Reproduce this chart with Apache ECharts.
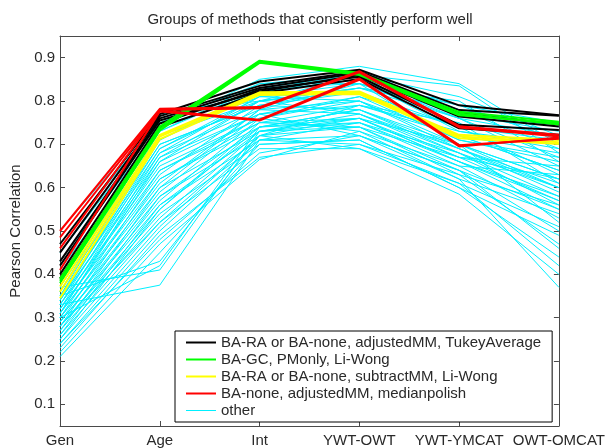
<!DOCTYPE html>
<html>
<head>
<meta charset="utf-8">
<script src="https://cdn.jsdelivr.net/npm/echarts@6/dist/echarts.min.js"></script>
<style>
  html, body { margin: 0; padding: 0; background: #ffffff; }
  #chart { width: 608px; height: 448px; }
</style>
</head>
<body>
<div id="chart"></div>
<script>
// Comparison conditions along the x axis
const categories = ['Gen', 'Age', 'Int', 'YWT-OWT', 'YWT-YMCAT', 'OWT-OMCAT'];
const yTicks = [0.1, 0.2, 0.3, 0.4, 0.5, 0.6, 0.7, 0.8, 0.9];

// Legend labels for the highlighted method groups
const nameTukey = 'BA-RA or BA-none, adjustedMM, TukeyAverage';
const nameGC = 'BA-GC, PMonly, Li-Wong';
const nameSubtract = 'BA-RA or BA-none, subtractMM, Li-Wong';
const nameMedian = 'BA-none, adjustedMM, medianpolish';
const nameOther = 'other';

// Pearson correlation per method (one row per method, one value per condition)
const tukeyRows = [
  [0.47, 0.770, 0.845, 0.872, 0.790, 0.767],
  [0.45, 0.765, 0.835, 0.868, 0.779, 0.766],
  [0.43, 0.760, 0.830, 0.865, 0.772, 0.746],
  [0.42, 0.755, 0.822, 0.860, 0.764, 0.741],
  [0.40, 0.748, 0.826, 0.856, 0.745, 0.733],
  [0.39, 0.740, 0.818, 0.851, 0.737, 0.722]
];
const gcRows = [
  [0.390, 0.741, 0.893, 0.865, 0.775, 0.752],
  [0.385, 0.736, 0.891, 0.863, 0.771, 0.746],
  [0.380, 0.732, 0.888, 0.860, 0.767, 0.749]
];
const subtractRows = [
  [0.372, 0.722, 0.820, 0.822, 0.722, 0.710],
  [0.360, 0.718, 0.817, 0.819, 0.718, 0.705],
  [0.345, 0.712, 0.814, 0.816, 0.714, 0.701]
];
const medianRows = [
  [0.500, 0.782, 0.786, 0.869, 0.742, 0.722],
  [0.485, 0.779, 0.783, 0.866, 0.739, 0.718],
  [0.460, 0.778, 0.757, 0.852, 0.698, 0.713],
  [0.410, 0.776, 0.755, 0.849, 0.695, 0.716]
];
const otherRows = [
  [0.50, 0.770, 0.800, 0.860, 0.780, 0.740],
  [0.47, 0.760, 0.820, 0.850, 0.760, 0.720],
  [0.45, 0.750, 0.840, 0.840, 0.770, 0.730],
  [0.43, 0.740, 0.850, 0.880, 0.840, 0.700],
  [0.41, 0.730, 0.830, 0.860, 0.835, 0.680],
  [0.37, 0.720, 0.800, 0.830, 0.800, 0.660],
  [0.36, 0.700, 0.790, 0.820, 0.740, 0.710],
  [0.35, 0.690, 0.810, 0.800, 0.720, 0.640],
  [0.35, 0.680, 0.780, 0.840, 0.700, 0.620],
  [0.34, 0.670, 0.770, 0.790, 0.730, 0.690],
  [0.34, 0.660, 0.800, 0.770, 0.690, 0.600],
  [0.33, 0.650, 0.760, 0.810, 0.710, 0.670],
  [0.33, 0.640, 0.750, 0.760, 0.660, 0.580],
  [0.32, 0.630, 0.790, 0.780, 0.680, 0.560],
  [0.32, 0.620, 0.740, 0.750, 0.650, 0.630],
  [0.31, 0.610, 0.780, 0.800, 0.700, 0.520],
  [0.31, 0.600, 0.730, 0.740, 0.670, 0.650],
  [0.30, 0.590, 0.770, 0.720, 0.640, 0.500],
  [0.30, 0.580, 0.720, 0.790, 0.750, 0.610],
  [0.29, 0.570, 0.760, 0.730, 0.620, 0.540],
  [0.29, 0.560, 0.710, 0.700, 0.630, 0.470],
  [0.28, 0.550, 0.740, 0.780, 0.690, 0.590],
  [0.28, 0.540, 0.700, 0.710, 0.600, 0.440],
  [0.27, 0.530, 0.730, 0.760, 0.660, 0.570],
  [0.26, 0.520, 0.690, 0.690, 0.585, 0.400],
  [0.25, 0.510, 0.720, 0.740, 0.640, 0.550],
  [0.24, 0.500, 0.710, 0.720, 0.620, 0.370],
  [0.23, 0.490, 0.670, 0.700, 0.610, 0.420],
  [0.22, 0.470, 0.665, 0.730, 0.650, 0.530],
  [0.21, 0.450, 0.700, 0.710, 0.600, 0.490],
  [0.37, 0.410, 0.730, 0.770, 0.680, 0.580],
  [0.33, 0.375, 0.710, 0.750, 0.660, 0.550],
  [0.30, 0.420, 0.740, 0.780, 0.700, 0.600],
  [0.35, 0.430, 0.720, 0.760, 0.670, 0.620],
  [0.36, 0.710, 0.820, 0.850, 0.730, 0.700],
  [0.38, 0.720, 0.810, 0.840, 0.760, 0.670],
  [0.34, 0.700, 0.790, 0.830, 0.780, 0.690],
  [0.33, 0.690, 0.800, 0.820, 0.710, 0.660],
  [0.31, 0.660, 0.770, 0.810, 0.740, 0.630],
  [0.30, 0.640, 0.760, 0.800, 0.690, 0.610],
  [0.29, 0.620, 0.750, 0.790, 0.720, 0.640],
  [0.28, 0.600, 0.780, 0.770, 0.670, 0.570],
  [0.27, 0.580, 0.740, 0.760, 0.700, 0.620],
  [0.26, 0.560, 0.730, 0.750, 0.680, 0.600],
  [0.25, 0.550, 0.750, 0.740, 0.630, 0.560],
  [0.31, 0.670, 0.800, 0.830, 0.760, 0.650],
  [0.32, 0.680, 0.810, 0.820, 0.720, 0.680],
  [0.34, 0.710, 0.830, 0.840, 0.790, 0.710],
  [0.35, 0.730, 0.840, 0.860, 0.810, 0.720],
  [0.36, 0.740, 0.820, 0.850, 0.790, 0.750],
  [0.28, 0.520, 0.720, 0.690, 0.610, 0.510],
  [0.24, 0.480, 0.680, 0.720, 0.640, 0.460]
];

const FONT = "'Liberation Sans', Arial, Helvetica, sans-serif";
const AXIS_COLOR = '#4a4a4a';
const TEXT_COLOR = '#2a2a2a';

function groupSeries(rows, name, color, width, z) {
  return rows.map(function (row) {
    return {
      name: name,
      type: 'line',
      data: row,
      symbol: 'none',
      silent: true,
      z: z,
      itemStyle: { color: color },
      lineStyle: { color: color, width: width },
      emphasis: { disabled: true }
    };
  });
}

const series = [].concat(
  groupSeries(otherRows, nameOther, '#00f0ff', 1, 2),
  groupSeries(tukeyRows, nameTukey, '#000000', 2, 3),
  groupSeries(gcRows, nameGC, '#00ff00', 2, 4),
  groupSeries(subtractRows, nameSubtract, '#ffff00', 2, 5),
  groupSeries(medianRows, nameMedian, '#ff0000', 2, 6)
);

const chart = echarts.init(document.getElementById('chart'), null, { renderer: 'canvas' });
chart.setOption({
  animation: false,
  backgroundColor: '#ffffff',
  textStyle: { fontFamily: FONT },
  title: {
    text: 'Groups of methods that consistently perform well',
    left: 310,
    textAlign: 'center',
    top: 12,
    padding: 0,
    textStyle: { fontFamily: FONT, fontSize: 15, fontWeight: 'normal', color: TEXT_COLOR }
  },
  grid: { left: 60, right: 48, top: 36, bottom: 19, containLabel: false },
  legend: {
    data: [
      nameTukey,
      nameGC,
      nameSubtract,
      nameMedian,
      { name: nameOther, lineStyle: { width: 1 } }
    ],
    orient: 'vertical',
    left: 175,
    top: 331,
    itemWidth: 30,
    itemHeight: 14,
    itemGap: 2,
    padding: [4, 11, 4, 10],
    backgroundColor: '#ffffff',
    borderColor: '#000000',
    borderWidth: 1,
    selectedMode: false,
    itemStyle: { opacity: 0 },
    textStyle: { fontFamily: FONT, fontSize: 15, color: TEXT_COLOR }
  },
  xAxis: [
    {
      type: 'category',
      data: categories,
      boundaryGap: false,
      position: 'bottom',
      axisLine: { show: true, lineStyle: { color: AXIS_COLOR, width: 1 } },
      axisTick: { show: true, inside: true, length: 5, alignWithLabel: true, lineStyle: { color: AXIS_COLOR } },
      axisLabel: { margin: 7, fontFamily: FONT, fontSize: 15, color: TEXT_COLOR, interval: 0 },
      splitLine: { show: false }
    },
    {
      type: 'category',
      data: categories,
      boundaryGap: false,
      position: 'top',
      axisLine: { show: true, lineStyle: { color: AXIS_COLOR, width: 1 } },
      axisTick: { show: true, inside: true, length: 5, lineStyle: { color: AXIS_COLOR } },
      axisLabel: { show: false },
      splitLine: { show: false }
    }
  ],
  yAxis: [
    {
      type: 'value',
      min: 0.05,
      max: 0.95,
      position: 'left',
      name: 'Pearson Correlation',
      nameLocation: 'middle',
      nameGap: 26,
      nameTextStyle: { fontFamily: FONT, fontSize: 15, color: TEXT_COLOR },
      axisLine: { show: true, lineStyle: { color: AXIS_COLOR, width: 1 } },
      axisTick: { show: true, inside: true, length: 5, customValues: yTicks, lineStyle: { color: AXIS_COLOR } },
      axisLabel: {
        margin: 5, fontFamily: FONT, fontSize: 15, color: TEXT_COLOR,
        customValues: yTicks,
        formatter: function (v) { return v.toFixed(1); }
      },
      splitLine: { show: false }
    },
    {
      type: 'value',
      min: 0.05,
      max: 0.95,
      position: 'right',
      axisLine: { show: true, lineStyle: { color: AXIS_COLOR, width: 1 } },
      axisTick: { show: true, inside: true, length: 5, customValues: yTicks, lineStyle: { color: AXIS_COLOR } },
      axisLabel: { show: false },
      splitLine: { show: false }
    }
  ],
  series: series
});
</script>
</body>
</html>
